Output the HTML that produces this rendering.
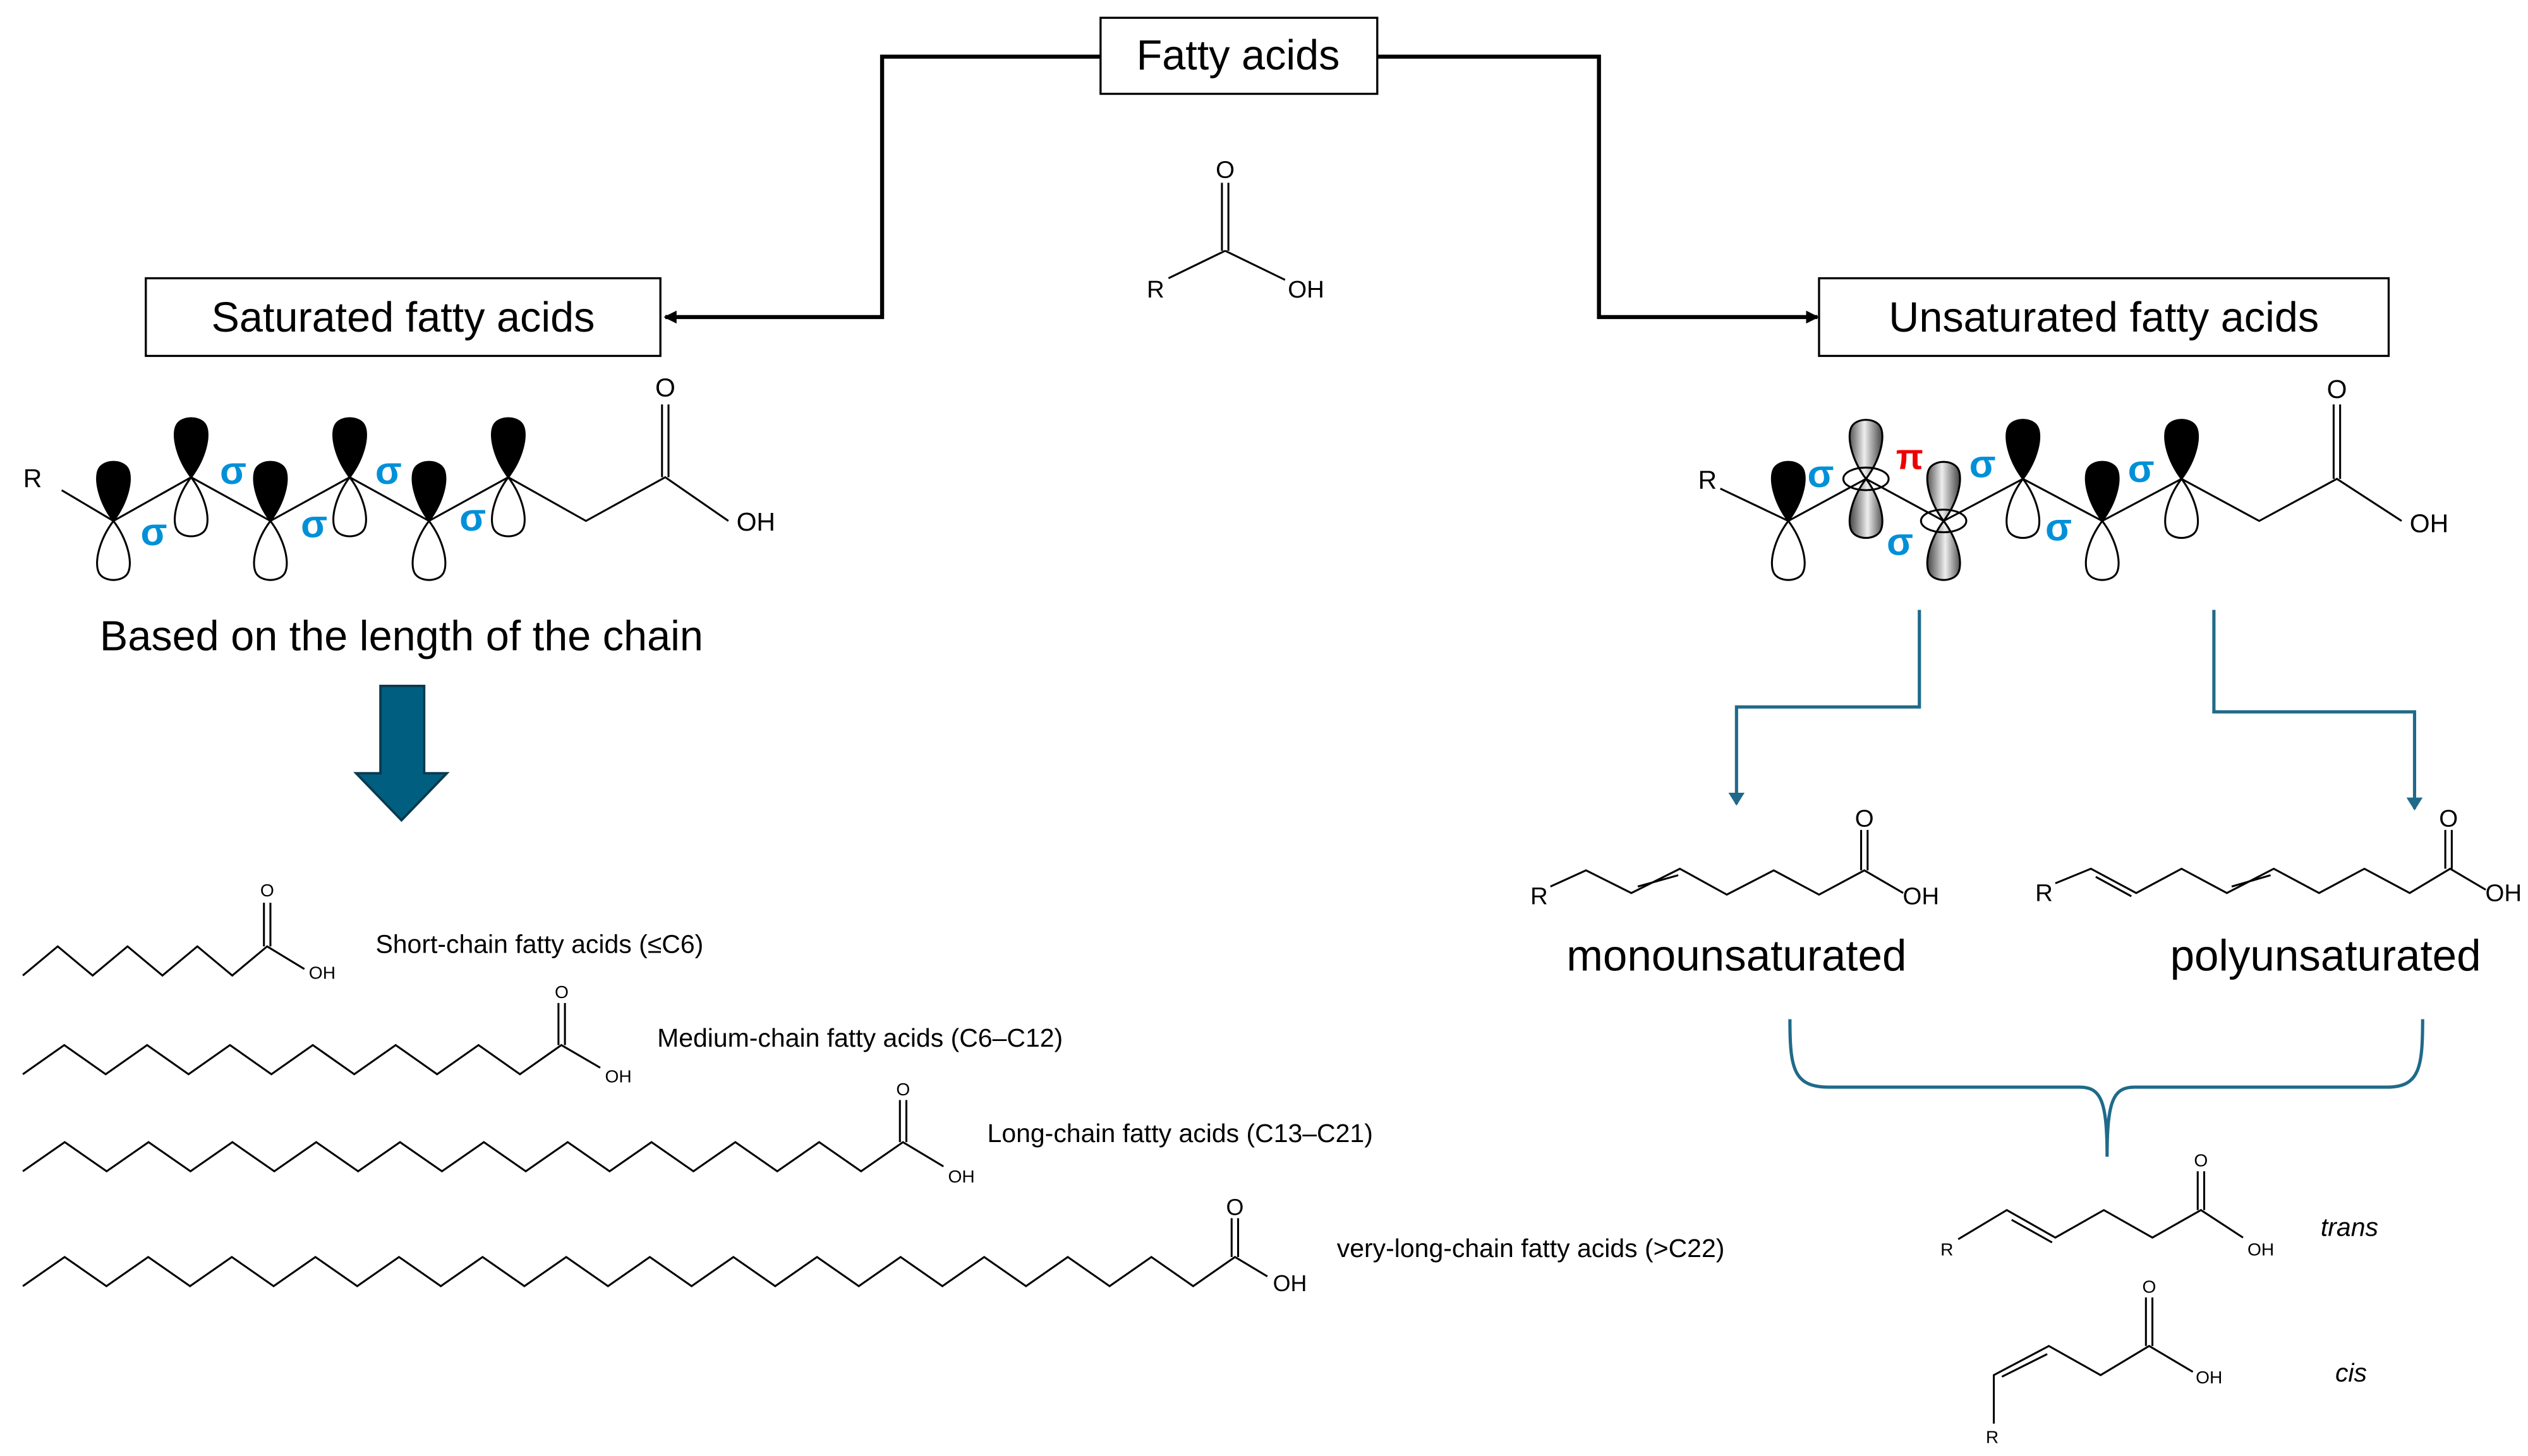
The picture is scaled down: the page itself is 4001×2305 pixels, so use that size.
<!DOCTYPE html>
<html><head><meta charset="utf-8"><style>
html,body{margin:0;padding:0;background:#fff;}
svg{display:block;}
text{font-family:"Liberation Sans",sans-serif;}
</style></head><body>
<svg width="4001" height="2305" viewBox="0 0 1562 900" xmlns="http://www.w3.org/2000/svg">
<defs>
<path id="lobe" d="M0 0 C-9 -12 -12 -26 -9 -32 C-6 -38 6 -38 9 -32 C12 -26 9 -12 0 0 Z"/>
<linearGradient id="g" x1="0" x2="1"><stop offset="0" stop-color="#555"/><stop offset="0.45" stop-color="#eee"/><stop offset="1" stop-color="#444"/></linearGradient>
<marker id="ab" markerWidth="8" markerHeight="8" refX="7" refY="4" orient="auto" markerUnits="userSpaceOnUse"><path d="M0 0 L8 4 L0 8 Z" fill="#000"/></marker>
<marker id="at" markerWidth="8" markerHeight="10" refX="7" refY="5" orient="auto" markerUnits="userSpaceOnUse"><path d="M0 0 L8 5 L0 10 Z" fill="#1f6a8a"/></marker>
</defs>

<rect x="680" y="11" width="171" height="47" fill="#fff" stroke="#000" stroke-width="1.3"/>
<text x="765" y="43" font-size="26" text-anchor="middle">Fatty acids</text>
<rect x="90" y="172" width="318" height="48" fill="#fff" stroke="#000" stroke-width="1.3"/>
<text x="249" y="205" font-size="26" text-anchor="middle">Saturated fatty acids</text>
<rect x="1124" y="172" width="352" height="48" fill="#fff" stroke="#000" stroke-width="1.3"/>
<text x="1300" y="205" font-size="26" text-anchor="middle">Unsaturated fatty acids</text>

<g fill="none" stroke="#000" stroke-width="2.5">
<polyline points="680,35 545,35 545,196 411,196" marker-end="url(#ab)"/>
<polyline points="851,35 988,35 988,196 1123,196" marker-end="url(#ab)"/>
</g>

<g stroke="#000" stroke-width="1.2" fill="none">
<line x1="722" y1="172" x2="757" y2="155"/><line x1="757" y1="155" x2="794" y2="173"/>
<line x1="755" y1="155" x2="755" y2="113"/><line x1="759" y1="155" x2="759" y2="113"/>
</g>
<text x="757" y="110" font-size="15" text-anchor="middle">O</text>
<text x="714" y="184" font-size="15" text-anchor="middle">R</text>
<text x="807" y="184" font-size="15" text-anchor="middle">OH</text>

<g stroke="#000" stroke-width="1.2" fill="none">
<polyline points="38,303 70,322 118,295 167,322 216,295 265,322 314,295 362,322 411,295 450,322"/>
<line x1="409" y1="295" x2="409" y2="250"/><line x1="413" y1="295" x2="413" y2="250"/>
</g>
<g stroke="#000" stroke-width="1.2">
<use href="#lobe" x="70" y="322" fill="#000"/><use href="#lobe" x="70" y="322" fill="#fff" transform="rotate(180 70 322)"/>
<use href="#lobe" x="167" y="322" fill="#000"/><use href="#lobe" x="167" y="322" fill="#fff" transform="rotate(180 167 322)"/>
<use href="#lobe" x="265" y="322" fill="#000"/><use href="#lobe" x="265" y="322" fill="#fff" transform="rotate(180 265 322)"/>
<use href="#lobe" x="118" y="295" fill="#000"/><use href="#lobe" x="118" y="295" fill="#fff" transform="rotate(180 118 295)"/>
<use href="#lobe" x="216" y="295" fill="#000"/><use href="#lobe" x="216" y="295" fill="#fff" transform="rotate(180 216 295)"/>
<use href="#lobe" x="314" y="295" fill="#000"/><use href="#lobe" x="314" y="295" fill="#fff" transform="rotate(180 314 295)"/>
</g>
<g fill="#0090d8" font-size="24" font-weight="bold" text-anchor="middle">
<text x="95" y="337">σ</text><text x="144" y="299">σ</text><text x="194" y="332">σ</text><text x="240" y="299">σ</text><text x="292" y="328">σ</text>
</g>
<text x="20" y="301" font-size="16" text-anchor="middle">R</text>
<text x="411" y="245" font-size="16" text-anchor="middle">O</text>
<text x="467" y="328" font-size="16" text-anchor="middle">OH</text>

<text x="248" y="402" font-size="26" text-anchor="middle">Based on the length of the chain</text>
<path d="M235 424 H262 V478 H276 L248 507 L220 478 H235 Z" fill="#005f80" stroke="#0a3a50" stroke-width="1.5"/>

<g stroke="#000" stroke-width="1.2" fill="none">
<path d="M14 603 l21.57 -18 21.57 18 21.57 -18 21.57 18 21.57 -18 21.57 18 21.57 -18 l23 14"/>
<line x1="163" y1="585" x2="163" y2="558"/><line x1="167" y1="585" x2="167" y2="558"/>
<path d="M14 664 l25.6 -18 25.6 18 25.6 -18 25.6 18 25.6 -18 25.6 18 25.6 -18 25.6 18 25.6 -18 25.6 18 25.6 -18 25.6 18 25.6 -18 l24 14"/>
<line x1="345" y1="646" x2="345" y2="620"/><line x1="349" y1="646" x2="349" y2="620"/>
<path d="M14 724 l25.9 -18 25.9 18 25.9 -18 25.9 18 25.9 -18 25.9 18 25.9 -18 25.9 18 25.9 -18 25.9 18 25.9 -18 25.9 18 25.9 -18 25.9 18 25.9 -18 25.9 18 25.9 -18 25.9 18 25.9 -18 25.9 18 25.9 -18 l25 15"/>
<line x1="556" y1="706" x2="556" y2="680"/><line x1="560" y1="706" x2="560" y2="680"/>
<path d="M14 795 l25.83 -18 25.83 18 25.83 -18 25.83 18 25.83 -18 25.83 18 25.83 -18 25.83 18 25.83 -18 25.83 18 25.83 -18 25.83 18 25.83 -18 25.83 18 25.83 -18 25.83 18 25.83 -18 25.83 18 25.83 -18 25.83 18 25.83 -18 25.83 18 25.83 -18 25.83 18 25.83 -18 25.83 18 25.83 -18 25.83 18 25.83 -18 l20 12"/>
<line x1="761" y1="777" x2="761" y2="753"/><line x1="765" y1="777" x2="765" y2="753"/>
</g>
<g font-size="11" text-anchor="middle">
<text x="165" y="554">O</text><text x="199" y="605">OH</text>
<text x="347" y="617">O</text><text x="382" y="669">OH</text>
<text x="558" y="677">O</text><text x="594" y="731">OH</text>
</g>
<text x="763" y="751" font-size="14" text-anchor="middle">O</text>
<text x="797" y="798" font-size="14" text-anchor="middle">OH</text>
<g font-size="16">
<text x="232" y="589">Short-chain fatty acids (≤C6)</text>
<text x="406" y="647">Medium-chain fatty acids (C6–C12)</text>
<text x="610" y="706">Long-chain fatty acids (C13–C21)</text>
<text x="826" y="777">very-long-chain fatty acids (&gt;C22)</text>
</g>

<g stroke="#000" stroke-width="1.2" fill="none">
<polyline points="1063,302 1105,322 1153,296 1201,322 1250,296 1299,322 1348,296 1396,322 1444,296 1484,322"/>
<line x1="1442" y1="296" x2="1442" y2="250"/><line x1="1446" y1="296" x2="1446" y2="250"/>
</g>
<g stroke="#000" stroke-width="1.2">
<use href="#lobe" x="1105" y="322" fill="#000"/><use href="#lobe" x="1105" y="322" fill="#fff" transform="rotate(180 1105 322)"/>
<use href="#lobe" x="1299" y="322" fill="#000"/><use href="#lobe" x="1299" y="322" fill="#fff" transform="rotate(180 1299 322)"/>
<use href="#lobe" x="1250" y="296" fill="#000"/><use href="#lobe" x="1250" y="296" fill="#fff" transform="rotate(180 1250 296)"/>
<use href="#lobe" x="1348" y="296" fill="#000"/><use href="#lobe" x="1348" y="296" fill="#fff" transform="rotate(180 1348 296)"/>
<use href="#lobe" x="1153" y="296" fill="url(#g)"/><use href="#lobe" x="1153" y="296" fill="url(#g)" transform="rotate(180 1153 296)"/>
<use href="#lobe" x="1201" y="322" fill="url(#g)"/><use href="#lobe" x="1201" y="322" fill="url(#g)" transform="rotate(180 1201 322)"/>
<ellipse cx="1153" cy="296" rx="14" ry="7" fill="none"/>
<ellipse cx="1201" cy="322" rx="14" ry="7" fill="none"/>
</g>
<g fill="#0090d8" font-size="24" font-weight="bold" text-anchor="middle">
<text x="1125" y="301">σ</text><text x="1174" y="343">σ</text><text x="1225" y="295">σ</text><text x="1272" y="334">σ</text><text x="1323" y="298">σ</text>
</g>
<text x="1180" y="290" fill="#e00" font-size="22" font-weight="bold" text-anchor="middle">π</text>
<text x="1055" y="302" font-size="16" text-anchor="middle">R</text>
<text x="1444" y="246" font-size="16" text-anchor="middle">O</text>
<text x="1501" y="329" font-size="16" text-anchor="middle">OH</text>

<g fill="none" stroke="#1f6a8a" stroke-width="2">
<polyline points="1186,377 1186,437 1073,437 1073,497" marker-end="url(#at)"/>
<polyline points="1368,377 1368,440 1492,440 1492,500" marker-end="url(#at)"/>
<path d="M1106 630 C1106 660 1108 672 1130 672 L1285 672 C1298 672 1302 680 1302 715 C1302 680 1306 672 1319 672 L1475 672 C1495 672 1497 660 1497 630"/>
</g>

<g stroke="#000" stroke-width="1.2" fill="none">
<polyline points="958,548 980,538 1008,552 1038,537 1067,553 1096,538 1124,553 1152,538 1176,552"/>
<line x1="1012" y1="548" x2="1037" y2="541"/>
<line x1="1150" y1="538" x2="1150" y2="513"/><line x1="1154" y1="538" x2="1154" y2="513"/>
<polyline points="1270,546 1292,537 1320,552 1348,537 1376,552 1405,537 1433,552 1461,537 1489,552 1514,537 1536,550"/>
<line x1="1295" y1="542" x2="1317" y2="554"/><line x1="1379" y1="548" x2="1403" y2="541"/>
<line x1="1511" y1="537" x2="1511" y2="513"/><line x1="1515" y1="537" x2="1515" y2="513"/>
</g>
<g font-size="15" text-anchor="middle">
<text x="951" y="559">R</text><text x="1152" y="511">O</text><text x="1187" y="559">OH</text>
<text x="1263" y="557">R</text><text x="1513" y="511">O</text><text x="1547" y="557">OH</text>
</g>
<text x="1073" y="600" font-size="27" text-anchor="middle">monounsaturated</text>
<text x="1437" y="600" font-size="27" text-anchor="middle">polyunsaturated</text>

<g stroke="#000" stroke-width="1.2" fill="none">
<polyline points="1210,766 1240,748 1270,765 1300,748 1330,765 1360,748 1386,765"/>
<line x1="1243" y1="754" x2="1268" y2="768"/>
<line x1="1358" y1="748" x2="1358" y2="724"/><line x1="1362" y1="748" x2="1362" y2="724"/>
<polyline points="1232,880 1232,850 1266,832 1298,850 1328,832 1355,848"/>
<line x1="1237" y1="851" x2="1265" y2="837"/>
<line x1="1326" y1="832" x2="1326" y2="802"/><line x1="1330" y1="832" x2="1330" y2="802"/>
</g>
<g font-size="11" text-anchor="middle">
<text x="1203" y="776">R</text><text x="1360" y="721">O</text><text x="1397" y="776">OH</text>
<text x="1231" y="892">R</text><text x="1328" y="799">O</text><text x="1365" y="855">OH</text>
</g>
<text x="1434" y="764" font-size="16" font-style="italic">trans</text>
<text x="1443" y="854" font-size="16" font-style="italic">cis</text>
</svg>
</body></html>
